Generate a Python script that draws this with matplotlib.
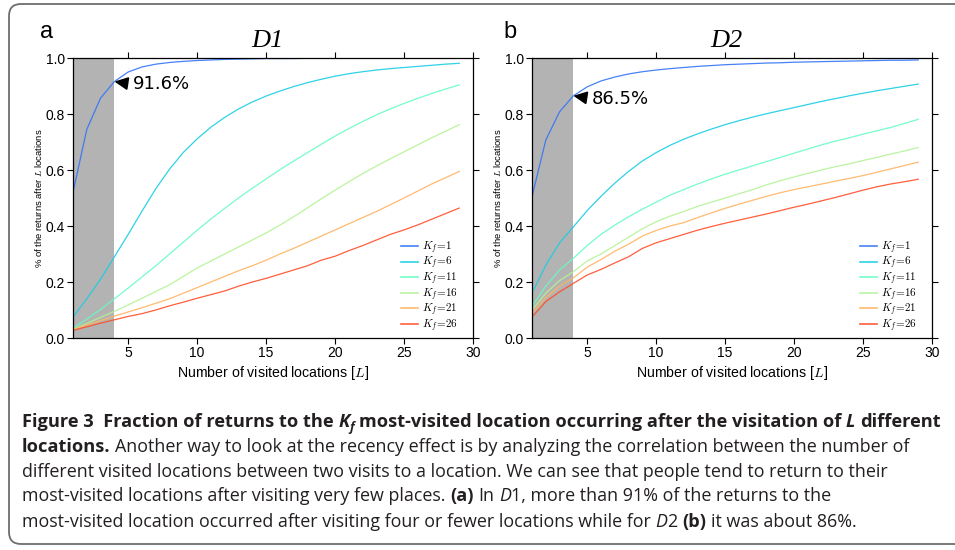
import numpy as np
import matplotlib
matplotlib.use("Agg")
from matplotlib import pyplot as plt
from matplotlib import patches
from matplotlib.transforms import IdentityTransform

# number of visited locations L
visited = list(range(1, 30))
kf_values = [1, 6, 11, 16, 21, 26]

# D1 curves, one list per K_f
d1_k1 = [.52, .745, .857, .916, .950, .968, .978, .984, .988, .991, .993, .995, .996, .997, .998,
         .998, .998, .999, .999, .999, .999, .999, .999, .999, 1.0, 1.0, 1.0, 1.0, 1.0]
d1_k6 = [.075, .14, .21, .29, .37, .453, .533, .603, .663, .711, .753, .788, .818, .843, .864,
         .882, .898, .912, .924, .935, .944, .951, .957, .962, .966, .970, .974, .978, .981]
d1_k11 = [.035, .068, .102, .14, .178, .218, .258, .30, .342, .385, .425, .463, .50, .535, .568,
          .601, .632, .662, .692, .721, .748, .773, .797, .818, .838, .856, .873, .889, .904]
d1_k16 = [.03, .052, .074, .095, .118, .142, .166, .19, .22, .25, .275, .30, .325, .35, .375,
          .403, .433, .465, .497, .528, .558, .587, .614, .64, .665, .69, .715, .738, .762]
d1_k21 = [.03, .046, .062, .078, .093, .108, .124, .14, .16, .18, .20, .22, .24, .258, .278,
          .30, .32, .342, .364, .386, .408, .43, .452, .476, .50, .525, .55, .572, .595]
d1_k26 = [.027, .04, .053, .065, .077, .087, .10, .115, .128, .142, .155, .168, .185, .20, .213,
          .228, .243, .258, .278, .292, .312, .33, .35, .37, .386, .404, .424, .444, .464]

# D2 curves
d2_k1 = [.505, .707, .808, .865, .897, .918, .932, .943, .951, .957, .962, .966, .970, .973, .976,
         .978, .980, .982, .983, .985, .986, .987, .988, .989, .990, .991, .992, .992, .993]
d2_k6 = [.16, .26, .34, .397, .455, .506, .553, .595, .632, .662, .688, .71, .729, .746, .762,
         .776, .789, .801, .812, .823, .834, .845, .855, .865, .874, .883, .891, .899, .907]
d2_k11 = [.113, .185, .243, .285, .33, .37, .403, .433, .46, .485, .51, .53, .55, .568, .585,
          .60, .615, .63, .645, .66, .675, .69, .703, .715, .728, .74, .752, .766, .781]
d2_k16 = [.10, .16, .205, .237, .275, .30, .33, .36, .39, .415, .435, .452, .47, .485, .50,
          .515, .53, .547, .562, .575, .588, .60, .612, .622, .634, .645, .657, .668, .68]
d2_k21 = [.088, .145, .185, .215, .253, .28, .31, .335, .364, .384, .40, .412, .43, .447, .463,
          .478, .492, .506, .519, .53, .54, .55, .56, .57, .58, .592, .604, .616, .628]
d2_k26 = [.075, .13, .165, .195, .225, .245, .268, .29, .32, .34, .355, .37, .385, .398, .41,
          .421, .432, .443, .455, .467, .478, .49, .502, .515, .528, .54, .55, .558, .567]

d1_curves = [d1_k1, d1_k6, d1_k11, d1_k16, d1_k21, d1_k26]
d2_curves = [d2_k1, d2_k6, d2_k11, d2_k16, d2_k21, d2_k26]

# fraction covered at L = 4 (the gray band)
cut_L = 4
d1_mark = 0.916
d2_mark = 0.865

plt.rcParams['mathtext.fontset'] = 'cm'
plt.rcParams['font.family'] = ['Liberation Sans', 'DejaVu Sans']

W, H = 955, 550
fig = plt.figure(figsize=(W / 100, H / 100), dpi=100)

colors = plt.cm.rainbow(np.linspace(0.15, 0.9, len(kf_values)))


def px_axes(left, top, right, bottom):
    return fig.add_axes([left / W, 1 - bottom / H, (right - left) / W, (bottom - top) / H])


def draw_panel(ax, curves, title, mark, mark_label):
    ax.axvspan(1, cut_L, color='#b3b3b3', lw=0, zorder=0)
    for kf, vals, c in zip(kf_values, curves, colors):
        ax.plot(visited, vals, color=c, lw=0.9, alpha=0.9,
                label=r'$K_f\!=\!%d$' % kf)
    ax.set_xlim(1, 30)
    ax.set_ylim(0, 1)
    ax.set_xticks([5, 10, 15, 20, 25, 30])
    ax.set_yticks([0, 0.2, 0.4, 0.6, 0.8, 1.0])
    ax.set_yticklabels(['0.0', '0.2', '0.4', '0.6', '0.8', '1.0'])
    ax.tick_params(direction='out', top=True, right=True, length=4, width=0.8,
                   labelsize=10, pad=2)
    for s in ax.spines.values():
        s.set_linewidth(0.9)
    ax.set_xlabel(r'Number of visited locations [$L$]', fontsize=10.2, labelpad=3)
    ax.set_ylabel(r'% of the returns after $L$ locations', fontsize=6.8, labelpad=1)
    ax.set_title(title, fontsize=19, family='Liberation Serif', style='italic',
                 pad=8, x=0.485)
    ax.annotate(mark_label, xy=(cut_L, mark), xytext=(cut_L + 1.32, mark - 0.01),
                fontsize=13, family='DejaVu Sans', va='center', ha='left',
                arrowprops=dict(arrowstyle='-|>,head_length=0.62,head_width=0.3',
                                color='black', lw=1.3, shrinkA=2, shrinkB=0,
                                relpos=(0, 0.5)))
    leg = ax.legend(loc='lower right', bbox_to_anchor=(0.9625, 0.015), frameon=False,
                    fontsize=8, handlelength=1.5, handletextpad=0.4,
                    labelspacing=-0.08, borderaxespad=0, borderpad=0)
    for line in leg.get_lines():
        line.set_linewidth(1.2)


ax_a = px_axes(73, 58, 473, 338)
ax_b = px_axes(532, 58, 932, 338)
draw_panel(ax_a, d1_curves, 'D1', d1_mark, '91.6%')
draw_panel(ax_b, d2_curves, 'D2', d2_mark, '86.5%')

fig.text(40 / W, 1 - 38 / H, 'a', fontsize=17)
fig.text(503 / W, 1 - 38 / H, 'b', fontsize=17)

# rounded frame around the figure
frame = patches.FancyBboxPatch((9, 6), 990, 540, boxstyle='round,pad=0,rounding_size=12',
                               transform=IdentityTransform(), fill=False,
                               ec='#6e6e6e', lw=1.3)
fig.add_artist(frame)

# caption, drawn run by run so bold/italic pieces can share a line
cap_family = 'Open Sans'
renderer = fig.canvas.get_renderer()


def text_w(s, size, weight='normal', style='normal'):
    t = fig.text(0, 0, s, fontsize=size, family=cap_family, fontweight=weight,
                 fontstyle=style, transform=IdentityTransform())
    w = t.get_window_extent(renderer).width
    t.remove()
    return w


line3 = ('different visited locations between two visits to a location. '
         'We can see that people tend to return to their')
cap_size = 10 * (873 - 22) / text_w(line3, 10) * 1.02
cap_color = '#231f20'


def caption_line(y, runs):
    x = 22
    for txt, st in runs:
        weight = 'bold' if 'b' in st else 'normal'
        fstyle = 'italic' if 'i' in st else 'normal'
        size = cap_size * 1.022 if 'b' in st else cap_size
        if 's' in st:
            size *= 0.68
        dy = -4 if 's' in st else 0
        space = text_w('a a', size, weight, fstyle) - text_w('aa', size, weight, fstyle)
        core = txt.strip(' ')
        x += space * (len(txt) - len(txt.lstrip(' ')))
        t = fig.text(x, H - y + dy, core, fontsize=size, family=cap_family,
                     fontweight=weight, fontstyle=fstyle, color=cap_color,
                     transform=IdentityTransform())
        x += t.get_window_extent(renderer).width
        x += space * (len(txt) - len(txt.rstrip(' ')))


caption_line(427, [('Figure 3  Fraction of returns to the ', 'b'), ('K', 'bi'), ('f', 'bis'),
                   (' most-visited location occurring after the visitation of ', 'b'),
                   ('L', 'bi'), (' different', 'b')])
caption_line(452, [('locations.', 'b'),
                   (' Another way to look at the recency effect is by analyzing the '
                    'correlation between the number of', '')])
caption_line(477, [(line3, '')])
caption_line(501, [('most-visited locations after visiting very few places. ', ''),
                   ('(a)', 'b'), (' In ', ''), ('D', 'i'),
                   ('1, more than 91% of the returns to the', '')])
caption_line(527, [('most-visited location occurred after visiting four or fewer '
                    'locations while for ', ''), ('D', 'i'), ('2 ', ''), ('(b)', 'b'),
                   (' it was about 86%.', '')])

fig.savefig('out.png', dpi=100)
